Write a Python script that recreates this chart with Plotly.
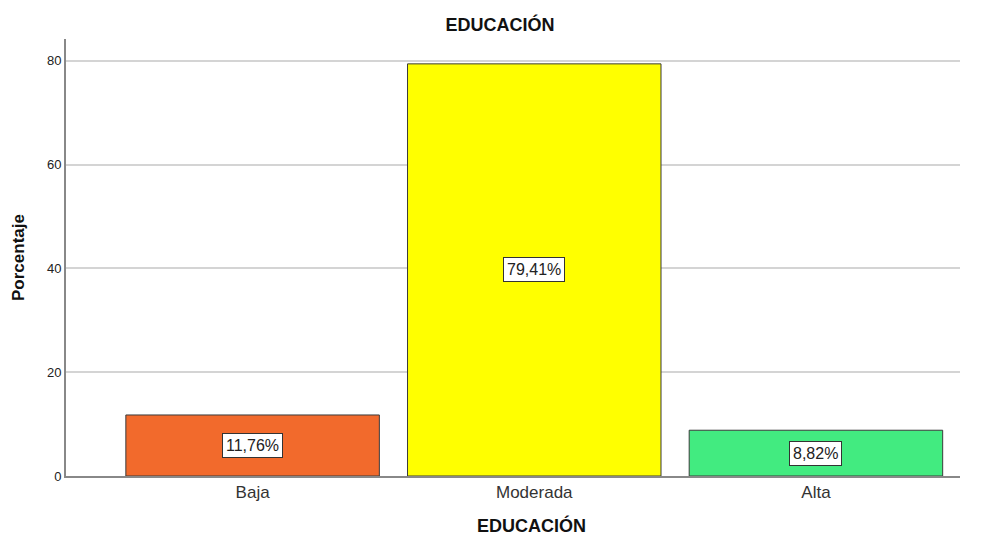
import plotly.graph_objects as go

categories = ["Baja", "Moderada", "Alta"]
values = [11.76, 79.41, 8.82]
labels = ["11,76%", "79,41%", "8,82%"]
colors = ["#F26A2C", "#FFFF00", "#42EB80"]

FONT = "Liberation Sans, Arial"

fig = go.Figure()
fig.add_trace(go.Bar(
    x=categories, y=values, width=0.9,
    marker=dict(color=colors, line=dict(color="#3a3a3a", width=1)),
    hoverinfo="skip",
))
for c, v, t in zip(categories, values, labels):
    fig.add_annotation(x=c, y=v / 2, text=t, showarrow=False,
                       font=dict(family=FONT, size=16, color="#222"),
                       bgcolor="white", bordercolor="#333", borderwidth=1, borderpad=3)

# x-axis title (SPSS places it slightly right of the plot centre)
fig.add_annotation(x=0.521, xref="paper", y=-(525 - 476) / 437, yref="paper", yanchor="middle",
                   text="<b>EDUCACIÓN</b>", showarrow=False,
                   font=dict(family=FONT, size=18, color="#111"))

fig.update_layout(
    width=988, height=536,
    margin=dict(l=66, r=28, t=39, b=60),
    paper_bgcolor="white", plot_bgcolor="white",
    showlegend=False,
    font=dict(family=FONT, color="#222"),
    title=dict(text="<b>EDUCACIÓN</b>", x=500 / 988, xanchor="center", y=1 - 25 / 536, yanchor="middle",
               font=dict(size=18, color="#111")),
    xaxis=dict(range=[-0.6625, 2.5115], showgrid=False, showline=True, linecolor="#888",
               linewidth=2, ticks="", tickfont=dict(size=17, color="#333")),
    yaxis=dict(range=[0, 84.2], tickvals=[0, 20, 40, 60, 80], showgrid=True, gridcolor="#d4d4d4",
               gridwidth=1.5, showline=True, linecolor="#888", linewidth=2, ticks="",
               tickfont=dict(size=13, color="#222"), zeroline=False,
               title=dict(text="<b>Porcentaje</b>", font=dict(size=17, color="#111"), standoff=18)),
)
fig.write_html("out.html")
